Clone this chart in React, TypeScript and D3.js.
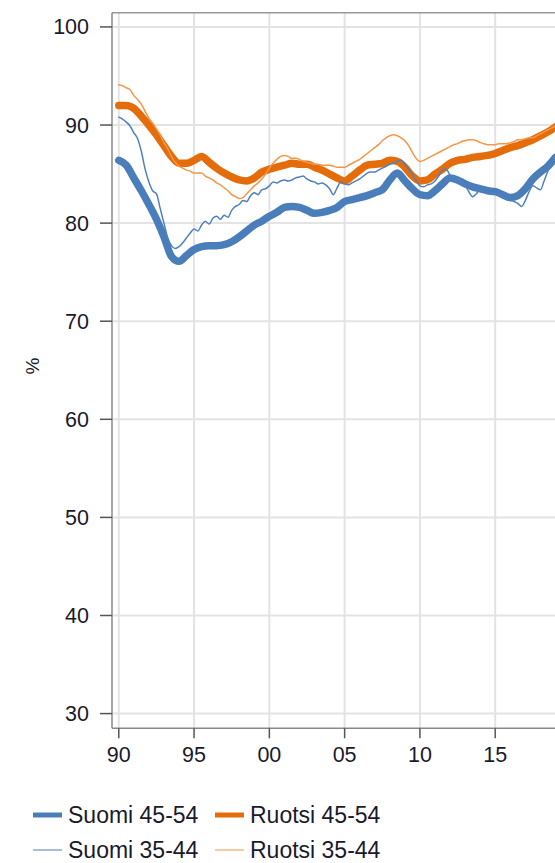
import React from "react";
import * as d3 from "d3";

// time index: half-years for the 45-54 series, quarters for the 35-44 series
const halfYears = d3.range(0, 59).map((i) => 1990 + i / 2);
const quarters = d3.range(0, 117).map((i) => 1990 + i / 4);

const suomi4554 = [
  86.4, 85.9, 84.6, 83.3, 81.9, 80.4, 78.6, 76.6, 76.1, 76.7,
  77.3, 77.6, 77.7, 77.7, 77.8, 78.1, 78.6, 79.2, 79.8, 80.2,
  80.7, 81.1, 81.6, 81.7, 81.6, 81.3, 81.0, 81.1, 81.3, 81.6,
  82.2, 82.4, 82.6, 82.8, 83.1, 83.4, 84.4, 85.1, 84.3, 83.5,
  82.9, 82.8, 83.3, 84.0, 84.6, 84.4, 84.0, 83.7, 83.5, 83.3,
  83.2, 82.9, 82.6, 82.8, 83.5, 84.5, 85.2, 85.8, 86.7,
];

const ruotsi4554 = [
  92.0, 92.0, 91.7, 90.9, 90.0, 89.0, 87.9, 86.8, 86.1, 86.1,
  86.4, 86.8, 86.2, 85.6, 85.1, 84.7, 84.4, 84.3, 84.6, 85.2,
  85.5, 85.7, 85.9, 86.1, 86.0, 86.0, 85.7, 85.4, 85.0, 84.6,
  84.3, 84.8, 85.4, 85.9, 86.0, 86.1, 86.4, 86.3, 85.7, 84.8,
  84.3, 84.4, 85.0, 85.5, 86.1, 86.4, 86.5, 86.7, 86.8, 86.9,
  87.1, 87.4, 87.7, 87.9, 88.2, 88.5, 88.9, 89.3, 89.8,
];

const suomi3544 = [
  90.8, 90.6, 90.3, 89.9, 89.2, 88.6, 87.3, 85.5, 84.2, 83.3, 83.0, 81.5,
  80.0, 78.5, 77.7, 77.4, 77.6, 78.0, 78.5, 79.0, 79.4, 79.2, 79.8, 80.2,
  79.9, 80.5, 80.7, 80.4, 80.8, 80.6, 81.3, 81.7, 81.9, 82.3, 82.2, 82.8,
  83.1, 82.9, 83.4, 83.5, 83.8, 84.2, 84.1, 84.3, 84.4, 84.3, 84.4, 84.6,
  84.7, 84.8, 84.5, 84.3, 84.2, 84.0, 84.1, 83.9, 83.5, 82.9, 83.6, 84.2,
  84.0, 83.9, 84.1, 84.3, 84.5, 84.8, 85.1, 85.2, 85.2, 85.4, 85.6, 85.8,
  86.0, 86.1, 86.3, 86.4, 86.0, 85.5, 85.0, 84.3, 83.8, 83.7, 83.9, 84.0,
  84.3, 84.8, 85.4, 85.5, 84.9, 84.7, 84.5, 84.3, 83.9, 83.2, 82.7, 83.0,
  83.4, 83.3, 83.1, 83.0, 83.0, 82.8, 82.6, 82.4, 82.3, 82.2, 82.0, 81.7,
  82.3, 83.2, 83.8, 83.6, 83.4, 84.3, 85.3, 86.1, 86.8,
];

const ruotsi3544 = [
  94.1, 94.0, 93.8, 93.6, 93.0, 92.6, 92.1, 91.4, 90.7, 90.2, 89.6, 89.0,
  88.2, 87.6, 86.8, 86.2, 85.8, 85.6, 85.4, 85.3, 85.1, 85.1, 85.1, 84.8,
  84.6, 84.4, 84.1, 83.9, 83.6, 83.3, 82.9, 82.7, 82.5, 82.6, 83.0, 83.4,
  83.8, 84.1, 84.5, 85.0, 85.6, 86.1, 86.5, 86.8, 86.9, 86.8, 86.6, 86.6,
  86.5, 86.3, 86.2, 86.1, 86.0, 86.0, 85.9, 85.9, 85.9, 85.8, 85.7, 85.7,
  85.7, 85.9, 86.1, 86.3, 86.5, 86.8, 87.1, 87.4, 87.7, 88.0, 88.4, 88.7,
  88.9, 89.0, 88.9, 88.7, 88.4, 87.9, 87.2, 86.6, 86.3, 86.4, 86.6, 86.8,
  87.0, 87.2, 87.4, 87.6, 87.8, 88.0, 88.1, 88.3, 88.4, 88.5, 88.5, 88.4,
  88.2, 88.1, 88.0, 88.0, 88.0, 88.1, 88.1, 88.1, 88.2, 88.3, 88.5, 88.5,
  88.6, 88.7, 88.7, 88.9, 89.1, 89.3, 89.5, 89.7, 89.9,
];

const yTicks = [30, 40, 50, 60, 70, 80, 90, 100];
const xTicks = [1990, 1995, 2000, 2005, 2010, 2015];
const xTickLabels = ["90", "95", "00", "05", "10", "15"];

const BLUE = "#4a7ebb";
const ORANGE = "#e46c0a";
const BLUE_THIN = "#4f81bd";
const ORANGE_THIN = "#f79646";

const series = [
  { name: "Suomi 45-54", t: halfYears, v: suomi4554, color: BLUE, w: 7.5 },
  { name: "Ruotsi 45-54", t: halfYears, v: ruotsi4554, color: ORANGE, w: 7.5 },
  { name: "Suomi 35-44", t: quarters, v: suomi3544, color: BLUE_THIN, w: 1.5 },
  { name: "Ruotsi 35-44", t: quarters, v: ruotsi3544, color: ORANGE_THIN, w: 1.5 },
];

const W = 555;
const H = 863;
const left = 112;
const top = 12.7;
const bottom = 728.3;
const right = 578;

export default function App() {
  const x = d3.scaleLinear().domain([1989.55, 2020.5]).range([left, right]);
  const y = d3.scaleLinear().domain([28.5, 101.45]).range([bottom, top]);
  const font = "'Liberation Sans', Arial, sans-serif";

  const lineFor = (s: typeof series[number]) =>
    d3
      .line<number>()
      .x((_, i) => x(s.t[i]))
      .y((d) => y(d))
      .curve(d3.curveMonotoneX)(s.v) || "";

  const legend = [
    { s: series[0], lx: 33, ly: 815, tx: 68 },
    { s: series[1], lx: 215, ly: 815, tx: 250 },
    { s: series[2], lx: 33, ly: 850, tx: 68 },
    { s: series[3], lx: 215, ly: 850, tx: 250 },
  ];

  return (
    <svg
      width={W}
      height={H}
      style={{ position: "absolute", left: 0, top: 0, background: "#fff" }}
    >
      <defs>
        <clipPath id="plot">
          <rect x={left} y={top} width={right - left} height={bottom - top} />
        </clipPath>
      </defs>

      {/* grid */}
      {yTicks.map((t) => (
        <line key={"gy" + t} x1={left} x2={W} y1={y(t)} y2={y(t)} stroke="#e3e3e3" strokeWidth={2} />
      ))}
      {xTicks.map((t) => (
        <line key={"gx" + t} x1={x(t)} x2={x(t)} y1={top} y2={bottom} stroke="#e3e3e3" strokeWidth={2} />
      ))}

      {/* lines */}
      <g clipPath="url(#plot)" fill="none" strokeLinejoin="round" strokeLinecap="round">
        {series.map((s) => (
          <path key={s.name} d={lineFor(s)} stroke={s.color} strokeWidth={s.w} />
        ))}
      </g>

      {/* frame */}
      <line x1={left} x2={W} y1={top} y2={top} stroke="#999" strokeWidth={1.5} />
      <line x1={left} x2={left} y1={top} y2={bottom} stroke="#888" strokeWidth={1.5} />
      <line x1={left} x2={W} y1={bottom} y2={bottom} stroke="#888" strokeWidth={1.5} />

      {/* y axis */}
      {yTicks.map((t) => (
        <g key={"ty" + t}>
          <line x1={left - 12} x2={left} y1={y(t)} y2={y(t)} stroke="#555" strokeWidth={1.5} />
          <text x={89} y={y(t)} dy="0.35em" textAnchor="end" fontFamily={font} fontSize={21.5} fill="#1a1a2a">
            {t}
          </text>
        </g>
      ))}
      <text
        transform={`translate(39,366) rotate(-90)`}
        textAnchor="middle"
        fontFamily={font}
        fontSize={19}
        fill="#1a1a2a"
      >
        %
      </text>

      {/* x axis */}
      {xTicks.map((t, i) => (
        <g key={"tx" + t}>
          <line x1={x(t)} x2={x(t)} y1={bottom} y2={bottom + 10} stroke="#555" strokeWidth={1.5} />
          <text x={x(t)} y={762} textAnchor="middle" fontFamily={font} fontSize={21.5} fill="#1a1a2a">
            {xTickLabels[i]}
          </text>
        </g>
      ))}

      {/* legend */}
      {legend.map(({ s, lx, ly, tx }) => (
        <g key={"lg" + s.name}>
          <line
            x1={lx}
            x2={lx + 29}
            y1={ly}
            y2={ly}
            stroke={s.color}
            strokeWidth={s.w > 2 ? 5 : 2}
            opacity={s.w > 2 ? 1 : 0.5}
          />
          <text x={tx} y={ly + 7.5} fontFamily={font} fontSize={23} fill="#1a1a2a">
            {s.name}
          </text>
        </g>
      ))}
    </svg>
  );
}
